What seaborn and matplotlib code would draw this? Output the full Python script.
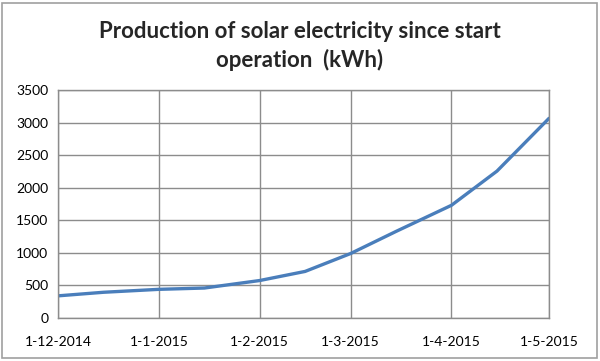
import pandas as pd
import numpy as np
import seaborn as sns
import matplotlib.pyplot as plt

# data (kWh, cumulative)
dates = ["2014-12-01", "2014-12-15", "2015-01-01", "2015-01-15", "2015-02-01",
         "2015-02-15", "2015-03-01", "2015-03-15", "2015-04-01", "2015-04-15",
         "2015-05-01"]
kwh = [340, 395, 440, 460, 575, 715, 990, 1330, 1730, 2255, 3065]

tick_dates = ["2014-12-01", "2015-01-01", "2015-02-01", "2015-03-01",
              "2015-04-01", "2015-05-01"]
tick_labels = ["1-12-2014", "1-1-2015", "1-2-2015", "1-3-2015", "1-4-2015", "1-5-2015"]
y_ticks = [0, 500, 1000, 1500, 2000, 2500, 3000, 3500]

df = pd.DataFrame({"date": pd.to_datetime(dates), "kwh": kwh})

sns.set_style("white")
plt.rcParams["font.family"] = ["Lato", "DejaVu Sans"]

grid_col = "#8c8c8c"

fig = plt.figure(figsize=(6.0, 3.61), dpi=100)
ax = fig.add_axes([58 / 600, 1 - 318 / 361, (549 - 58) / 600, (318 - 90) / 361])

# outer chart border, slightly inset like the Excel chart area
border = plt.Rectangle((2 / 600, 3 / 361), 595 / 600, 355 / 361, transform=fig.transFigure,
                       fill=False, edgecolor="#a0a0a0", linewidth=1.2)
fig.add_artist(border)

sns.lineplot(data=df, x="date", y="kwh", ax=ax, color="#4a7ebb", linewidth=2.4)

ax.set_xlim(pd.Timestamp(tick_dates[0]), pd.Timestamp(tick_dates[-1]))
ax.set_ylim(0, 3500)
ax.set_xticks(pd.to_datetime(tick_dates))
ax.set_xticklabels(tick_labels)
ax.set_yticks(y_ticks)
ax.set_yticklabels([str(v) for v in y_ticks])
ax.grid(True, color=grid_col, linewidth=1)
ax.set_axisbelow(True)
for s in ax.spines.values():
    s.set_color(grid_col)
    s.set_linewidth(1)
ax.tick_params(axis="both", direction="out", length=4, width=1, color=grid_col,
               labelsize=10, labelcolor="#000000", pad=3)
ax.tick_params(axis="x", pad=9)
ax.set_xlabel("")
ax.set_ylabel("")

fig.text(0.5, 1 - 31 / 361, "Production of solar electricity since start",
         ha="center", va="center", fontsize=16, fontweight="bold")
fig.text(0.5, 1 - 60 / 361, "operation  (kWh)",
         ha="center", va="center", fontsize=16, fontweight="bold")

fig.savefig("out.png", dpi=100)
